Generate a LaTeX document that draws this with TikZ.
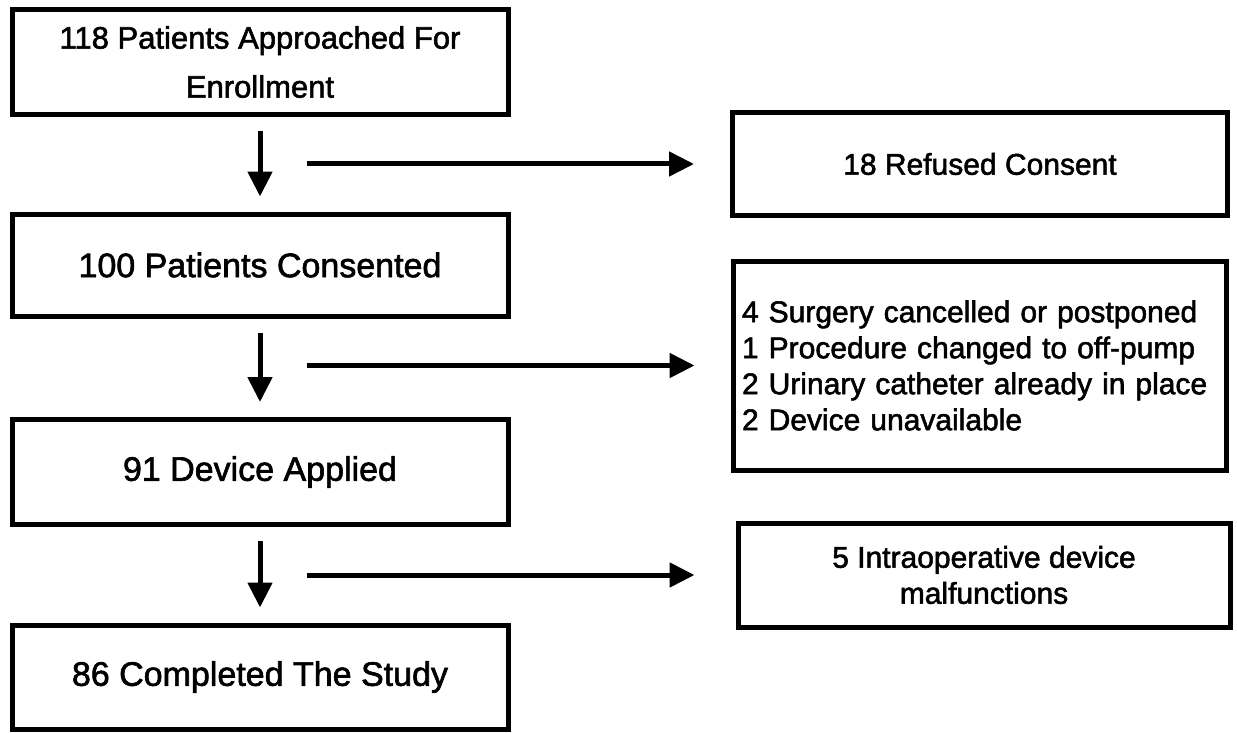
\documentclass[tikz,border=0pt]{standalone}
\usepackage{fontspec}
\setmainfont{Liberation Sans}
\newfontfamily\boxfont{Liberation Sans}[FakeBold=1.8]
\usetikzlibrary{arrows.meta}

\begin{document}
\begin{tikzpicture}[x=1pt,y=-1pt]
    \tikzstyle{stage}=[rectangle,draw=black,line width=5pt,minimum width=496pt,minimum height=105pt,inner sep=0pt,align=center,font=\boxfont\fontsize{30}{36}\selectfont]
    \tikzstyle{main}=[stage,font=\boxfont\fontsize{34}{40}\selectfont]
    \tikzstyle{flow}=[line width=5pt,-{Triangle[length=25pt,width=24pt]}]

    \useasboundingbox (0,0) rectangle (1237,733);

    % main column
    \node (enroll)[stage,font=\boxfont\fontsize{31}{36}\selectfont] at (260,62) {118 Patients Approached For\\[13pt]Enrollment};
    \node (consent)[main,minimum height=102pt] at (260,265) {100 Patients Consented};
    \node (applied)[main] at (260,472) {91 Device Applied};
    \node (completed)[main,minimum height=104pt] at (260,677) {86 Completed The Study};

    % exclusions
    \node (refused)[stage,minimum width=495pt,minimum height=102pt] at (980,164) {18 Refused Consent};
    \node (excluded)[stage,minimum width=493pt,minimum height=209pt,text width=475pt,align=left] at (979.5,365.5)
        {4 Surgery cancelled or postponed\\1 Procedure changed to off-pump\\2 Urinary catheter already in place\\2 Device unavailable};
    \node (malfunc)[stage,minimum width=492pt,minimum height=104pt] at (984,575) {5 Intraoperative device\\malfunctions};

    \draw[flow] ([yshift=-14pt]enroll.south) -- ([yshift=15pt]consent.north);
    \draw[flow] ([yshift=-14pt]consent.south) -- ([yshift=15pt]applied.north);
    \draw[flow] ([yshift=-14pt]applied.south) -- ([yshift=15pt]completed.north);

    \draw[flow] ([xshift=47pt]enroll.south |- refused.west) -- ([xshift=-36pt]refused.west);
    \draw[flow] ([xshift=47pt]consent.south |- excluded.west) -- ([xshift=-36pt]excluded.west);
    \draw[flow] ([xshift=47pt]applied.south |- malfunc.west) -- ([xshift=-41pt]malfunc.west);
\end{tikzpicture}
\end{document}
